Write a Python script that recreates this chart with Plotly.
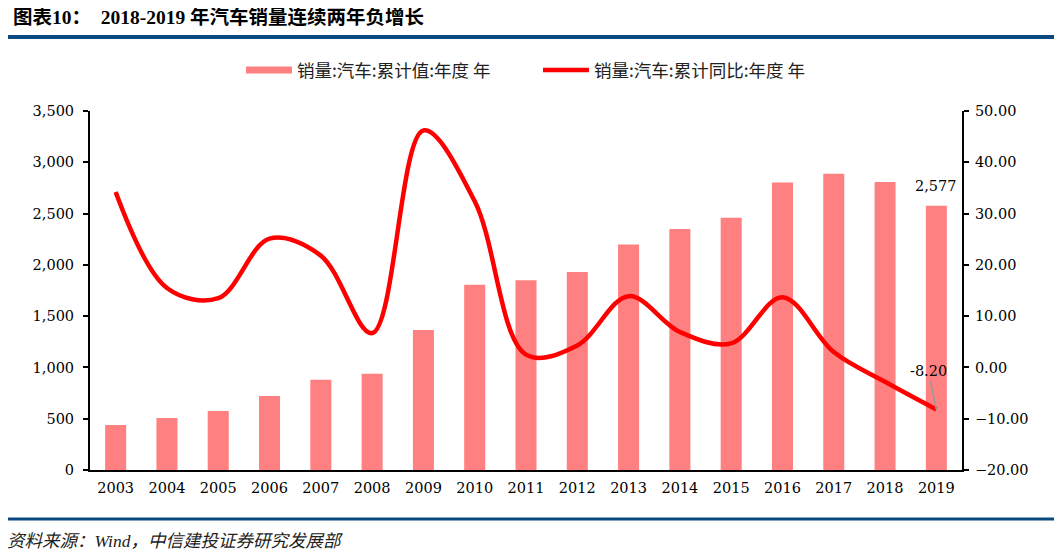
import plotly.graph_objects as go

years = [str(y) for y in range(2003, 2020)]
sales = [439, 507, 576, 722, 879, 938, 1364, 1806, 1851, 1931, 2198, 2349, 2460, 2803, 2888, 2808, 2577]
growth = [34.2, 15.5, 13.5, 25.1, 21.8, 6.7, 46.2, 32.4, 2.5, 4.3, 13.9, 6.9, 4.7, 13.7, 3.0, -2.8, -8.2]

bar_name = "销量:汽车:累计值:年度 年"
line_name = "销量:汽车:累计同比:年度 年"
title_text = "图表10：  2018-2019 年汽车销量连续两年负增长"
source_text = "资料来源：Wind，中信建投证券研究发展部"

OFF = 8  # page body margin
W, H = 1062 - OFF, 556 - OFF
# desired page positions of plot area: x 90..962, y 111..470
L = 90 - OFF
T = 111 - OFF
pw = 962 - 90
ph = 470 - 111
R = W - L - pw
B = H - T - ph

def px_x(x):
    return (x - OFF - L) / pw

def px_y(y):
    return (T + ph - (y - OFF)) / ph

num_font = dict(family="DejaVu Serif, Liberation Serif, serif", size=14.5, color="#000000")
cjk_font = dict(family="Noto Sans CJK SC, sans-serif", size=17.5, color="#222222")

bar_color = "#FF8080"
line_color = "#FF0000"

fig = go.Figure()
fig.add_trace(go.Bar(
    x=years, y=sales, name=bar_name,
    marker=dict(color=bar_color, line=dict(width=0)),
    yaxis="y", showlegend=False,
))
# legend proxy for the bars (wide swatch like the reference)
fig.add_trace(go.Scatter(
    x=[None], y=[None], name=bar_name, mode="lines",
    line=dict(color=bar_color, width=7), yaxis="y",
))
fig.add_trace(go.Scatter(
    x=years, y=growth, name=line_name, mode="lines",
    line=dict(color=line_color, width=4.5, shape="spline", smoothing=1.0),
    yaxis="y2",
))

fig.update_layout(
    width=W, height=H,
    margin=dict(l=L, r=R, t=T, b=B),
    paper_bgcolor="white", plot_bgcolor="white",
    bargap=0.59,
    showlegend=True,
    legend=dict(
        orientation="h", x=px_x(241), xanchor="left",
        y=px_y(70), yanchor="middle",
        font=cjk_font, itemwidth=46, traceorder="normal",
        entrywidth=236, entrywidthmode="pixels",
    ),
    xaxis=dict(
        type="category", showline=True, linecolor="#000000", linewidth=2,
        ticks="", showgrid=False, tickfont=num_font, zeroline=False,
        ticklabelstandoff=4,
    ),
    yaxis=dict(
        range=[0, 3500], dtick=500, tickformat=",.0f",
        showline=True, linecolor="#000000", linewidth=2,
        ticks="outside", ticklen=5, tickwidth=2, tickcolor="#000000",
        showgrid=False, zeroline=False, tickfont=num_font,
        ticklabelstandoff=6,
    ),
    yaxis2=dict(
        range=[-20, 50], dtick=10, tickformat=".2f",
        overlaying="y", side="right",
        showline=True, linecolor="#000000", linewidth=2,
        ticks="outside", ticklen=5, tickwidth=2, tickcolor="#000000",
        showgrid=False, zeroline=False, tickfont=num_font,
        ticklabelstandoff=3,
    ),
    title=dict(
        text="<b>" + title_text + "</b>",
        xref="container", yref="container",
        x=(5 - OFF + 8) / W, xanchor="left", y=1 - (17 - OFF) / H, yanchor="middle",
        font=dict(family="Liberation Serif, Noto Sans CJK SC", size=19.5, color="#000000"),
    ),
)

# header and footer rules
fig.add_shape(type="line", xref="paper", yref="paper",
              x0=px_x(5), x1=px_x(1057), y0=px_y(37), y1=px_y(37),
              line=dict(color="#0B4A80", width=4))
fig.add_shape(type="line", xref="paper", yref="paper",
              x0=px_x(5), x1=px_x(1057), y0=px_y(519), y1=px_y(519),
              line=dict(color="#0B4A80", width=3))

fig.add_annotation(
    xref="paper", yref="paper", x=px_x(5), y=px_y(541),
    xanchor="left", yanchor="middle", showarrow=False,
    text="<i>" + source_text + "</i>",
    font=dict(family="Liberation Serif, Noto Sans CJK SC", size=17.5, color="#222222"),
)

# data labels (category axis: position by index of the last category)
last = len(years) - 1
fig.add_annotation(
    x=last, y=sales[-1], xref="x", yref="y",
    text=f"{sales[-1]:,}", showarrow=False, yanchor="bottom", yshift=10,
    font=num_font,
)
fig.add_annotation(
    x=last, y=growth[-1], xref="x", yref="y2",
    text=f"{growth[-1]:.2f}", showarrow=True, arrowhead=0, arrowwidth=1.5,
    arrowcolor="#999999", ax=-8, ay=-38, standoff=0,
    font=num_font,
)

fig.write_html("out.html")
